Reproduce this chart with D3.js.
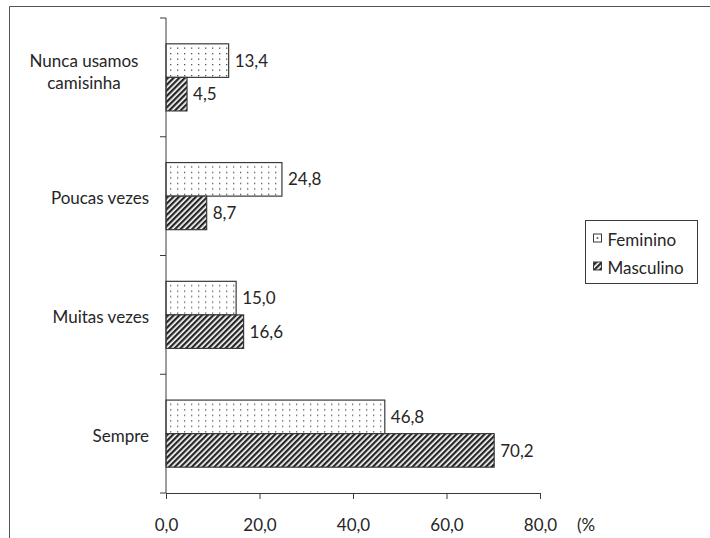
<!DOCTYPE html>
<html>
<head>
<meta charset="utf-8">
<script src="https://cdn.jsdelivr.net/npm/d3@7"></script>
<style>
  html, body { margin: 0; padding: 0; background: #fff; }
  svg { display: block; }
  text { font-family: Lato, "Open Sans", sans-serif; fill: #262626; }
</style>
</head>
<body>
<svg id="chart" width="710" height="538"></svg>
<script>
// Categories (top to bottom) and series values, in percent
const categories = ["Nunca usamos camisinha", "Poucas vezes", "Muitas vezes", "Sempre"];
const categoryLines = [["Nunca usamos", "camisinha"], ["Poucas vezes"], ["Muitas vezes"], ["Sempre"]];
const seriesNames = ["Feminino", "Masculino"];
const feminino = [13.4, 24.8, 15.0, 46.8];
const masculino = [4.5, 8.7, 16.6, 70.2];
const xTicks = [0, 20, 40, 60, 80];
const unitLabel = "(%";

const svg = d3.select("#chart");
const ink = "#3a3a3a";
const fontSize = 17;

// Patterns: fine dots for Feminino, dense diagonal hatch for Masculino
const defs = svg.append("defs");
const dots = defs.append("pattern").attr("id", "dots")
  .attr("patternUnits", "userSpaceOnUse").attr("width", 7).attr("height", 11);
dots.append("rect").attr("width", 7).attr("height", 11).attr("fill", "#fff");
dots.append("rect").attr("x", 2).attr("y", 2).attr("width", 1.3).attr("height", 1.3).attr("fill", "#555");
dots.append("rect").attr("x", 2).attr("y", 7.5).attr("width", 1.3).attr("height", 1.3).attr("fill", "#555");

const hatch = defs.append("pattern").attr("id", "hatch")
  .attr("patternUnits", "userSpaceOnUse").attr("width", 4).attr("height", 4)
  .attr("patternTransform", "rotate(45)");
hatch.append("rect").attr("width", 4).attr("height", 4).attr("fill", "#fff");
hatch.append("rect").attr("x", 0).attr("y", 0).attr("width", 2.3).attr("height", 4).attr("fill", "#262626");

const fills = { Feminino: "url(#dots)", Masculino: "url(#hatch)" };

// Outer frame (only its top and left edges fall inside the canvas)
svg.append("path")
  .attr("d", "M9.5,538 V6.5 H710")
  .attr("fill", "none").attr("stroke", "#555").attr("stroke-width", 1);

// Scales
const x = d3.scaleLinear().domain([0, 80]).range([166, 540]);
const y = d3.scaleBand().domain(categories).range([18, 493]).paddingInner(0).paddingOuter(0);
const inner = d3.scaleBand().domain(seriesNames).range([0, y.bandwidth()]).paddingInner(0).paddingOuter(0.77);

const rows = categories.map((c, i) => ({
  cat: c,
  vals: [{ s: "Feminino", v: feminino[i] }, { s: "Masculino", v: masculino[i] }]
}));

const fmt = v => d3.format(".1f")(v).replace(".", ",");

// Bars
const groups = svg.append("g").selectAll("g").data(rows).join("g")
  .attr("transform", d => `translate(0,${y(d.cat)})`);

groups.selectAll("rect").data(d => d.vals).join("rect")
  .attr("x", x(0))
  .attr("y", d => inner(d.s))
  .attr("width", d => x(d.v) - x(0))
  .attr("height", inner.bandwidth())
  .attr("fill", d => fills[d.s])
  .attr("stroke", ink).attr("stroke-width", 1.2);

groups.selectAll("text.val").data(d => d.vals).join("text")
  .attr("class", "val")
  .attr("x", d => x(d.v) + 6)
  .attr("y", d => inner(d.s) + inner.bandwidth() / 2)
  .attr("dy", "0.36em")
  .attr("font-size", fontSize)
  .text(d => fmt(d.v));

// X axis
const xAxis = d3.axisBottom(x).tickValues(xTicks).tickSizeInner(6).tickSizeOuter(0)
  .tickPadding(20).tickFormat(fmt);
const gx = svg.append("g").attr("transform", `translate(0,${y.range()[1]})`).call(xAxis);
gx.select(".domain").attr("stroke", ink);
gx.selectAll(".tick line").attr("stroke", ink);
gx.selectAll(".tick text").attr("font-size", fontSize).attr("font-family", "Lato, sans-serif").attr("fill", "#262626");

svg.append("text")
  .attr("x", 577).attr("y", y.range()[1] + 26).attr("dy", "0.71em")
  .attr("font-size", fontSize)
  .text(unitLabel);

// Y axis: line with ticks at category boundaries
const gy = svg.append("g");
gy.append("line")
  .attr("x1", x(0)).attr("x2", x(0))
  .attr("y1", y.range()[0]).attr("y2", y.range()[1])
  .attr("stroke", ink);
const bounds = categories.map(c => y(c)).concat([y.range()[1]]);
gy.selectAll("line.tick").data(bounds).join("line")
  .attr("class", "tick")
  .attr("x1", x(0) - 6).attr("x2", x(0))
  .attr("y1", d => d).attr("y2", d => d)
  .attr("stroke", ink);

// Category labels: single lines right-aligned, wrapped labels centred as a block
svg.append("g").selectAll("text").data(rows).join("text")
  .attr("font-size", fontSize)
  .each(function (d, i) {
    const lines = categoryLines[i];
    const t = d3.select(this);
    const cy = y(d.cat) + y.bandwidth() / 2;
    if (lines.length === 1) {
      t.attr("text-anchor", "end").attr("x", 149).attr("y", cy + 2).attr("dy", "0.36em").text(lines[0]);
    } else {
      t.attr("text-anchor", "middle");
      lines.forEach((ln, k) => {
        t.append("tspan")
          .attr("x", 84)
          .attr("y", cy - 5 + (k - (lines.length - 1) / 2) * 22)
          .attr("dy", "0.36em")
          .text(ln);
      });
    }
  });

// Legend
const lg = svg.append("g").attr("transform", "translate(585.5,220.5)");
lg.append("rect").attr("width", 112).attr("height", 63)
  .attr("fill", "#fff").attr("stroke", ink);
seriesNames.forEach((s, i) => {
  const yy = 18 + i * 28;
  lg.append("rect").attr("x", 8).attr("y", yy - 4.5).attr("width", 8).attr("height", 8)
    .attr("fill", s === "Feminino" ? "#fff" : fills[s]).attr("stroke", ink);
  if (s === "Feminino") {
    lg.append("rect").attr("x", 11.2).attr("y", yy - 1.3).attr("width", 1.6).attr("height", 1.6).attr("fill", "#444");
  }
  lg.append("text").attr("x", 22).attr("y", yy + 1).attr("dy", "0.36em")
    .attr("font-size", fontSize).text(s);
});
</script>
</body>
</html>
